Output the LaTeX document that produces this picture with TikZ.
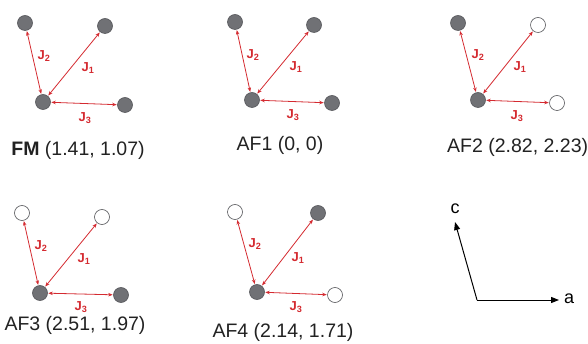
\documentclass[tikz,border=0pt]{standalone}
\usepackage{fontspec}
\setmainfont{Liberation Sans}
\usetikzlibrary{arrows.meta}
\definecolor{spingrey}{HTML}{707175}
\definecolor{spinedge}{HTML}{55565A}
\definecolor{jred}{HTML}{D42A30}
\definecolor{captext}{HTML}{222222}
\newcommand{\jj}[1]{J\textsubscript{#1}}
\begin{document}
\begin{tikzpicture}[x=1pt,y=-1pt,
  full/.style={circle,draw=spinedge,fill=spingrey,line width=0.6pt,minimum size=15pt,inner sep=0pt},
  empty/.style={circle,draw=spinedge,fill=white,line width=0.6pt,minimum size=15pt,inner sep=0pt},
  jarrow/.style={jred,line width=0.8pt,{Stealth[length=4.5pt,width=3.5pt]}-{Stealth[length=4.5pt,width=3.5pt]},shorten <=0.5pt,shorten >=0.5pt},
  jlab/.style={text=jred,font=\fontsize{13}{13}\selectfont\bfseries,inner sep=1pt},
  caption/.style={text=captext,font=\fontsize{19.5}{21}\selectfont,inner sep=0pt},
  axis/.style={line width=1pt,-{Triangle[length=8pt,width=6pt]}}]
\useasboundingbox (0,0) rectangle (588,344);
% FM
\node[full] (fa) at (25,23) {};
\node[full] (fb) at (105,26) {};
\node[full] (fc) at (43,102) {};
\node[full] (fd) at (125,105) {};
\draw[jarrow] (fc) -- (fa);
\draw[jarrow] (fc) -- (fb);
\draw[jarrow] (fc) -- (fd);
\node[jlab] (fj2) at (44,56) {\jj{2}};
\node[jlab] (fj1) at (88,68) {\jj{1}};
\node[jlab] (fj3) at (85,118) {\jj{3}};
\node[caption] (fcap) at (78,150) {\textbf{FM} (1.41, 1.07)};
% AF1
\node[full] (aa) at (235,22) {};
\node[full] (ab) at (314,25) {};
\node[full] (ac) at (252,100) {};
\node[full] (ad) at (332,103) {};
\draw[jarrow] (ac) -- (aa);
\draw[jarrow] (ac) -- (ab);
\draw[jarrow] (ac) -- (ad);
\node[jlab] (aj2) at (253,55) {\jj{2}};
\node[jlab] (aj1) at (296,67) {\jj{1}};
\node[jlab] (aj3) at (293,115) {\jj{3}};
\node[caption] (acap) at (280,145) {AF1 (0, 0)};
% AF2
\node[full] (ba) at (458,23) {};
\node[empty] (bb) at (538,25) {};
\node[full] (bc) at (478,100) {};
\node[empty] (bd) at (557,103) {};
\draw[jarrow] (bc) -- (ba);
\draw[jarrow] (bc) -- (bb);
\draw[jarrow] (bc) -- (bd);
\node[jlab] (bj2) at (478,55) {\jj{2}};
\node[jlab] (bj1) at (520,67) {\jj{1}};
\node[jlab] (bj3) at (517,116) {\jj{3}};
\node[caption,anchor=west] (bcap) at (447,147) {AF2 (2.82, 2.23)};
% AF3
\node[empty] (ca) at (22,213) {};
\node[empty] (cb) at (102,217) {};
\node[full] (cc) at (40,293) {};
\node[full] (cd) at (121,295) {};
\draw[jarrow] (cc) -- (ca);
\draw[jarrow] (cc) -- (cb);
\draw[jarrow] (cc) -- (cd);
\node[jlab] (cj2) at (41,246) {\jj{2}};
\node[jlab] (cj1) at (84,259) {\jj{1}};
\node[jlab] (cj3) at (81,307) {\jj{3}};
\node[caption] (ccap) at (75,325) {AF3 (2.51, 1.97)};
% AF4
\node[empty] (da) at (235,212) {};
\node[full] (db) at (318,213) {};
\node[full] (dc) at (257,292) {};
\node[empty] (dd) at (335,295) {};
\draw[jarrow] (dc) -- (da);
\draw[jarrow] (dc) -- (db);
\draw[jarrow] (dc) -- (dd);
\node[jlab] (dj2) at (255,244) {\jj{2}};
\node[jlab] (dj1) at (298,258) {\jj{1}};
\node[jlab] (dj3) at (296,307) {\jj{3}};
\node[caption] (dcap) at (283,332) {AF4 (2.14, 1.71)};
% axes
\coordinate (o) at (477,300);
\coordinate (ta) at (559,300);
\coordinate (tc) at (455,222);
\draw[axis] (o) -- (ta);
\draw[axis] (o) -- (tc);
\node[font=\fontsize{18}{18}\selectfont,inner sep=0pt] (la) at (569,299) {a};
\node[font=\fontsize{18}{18}\selectfont,inner sep=0pt] (lc) at (455,209) {c};
\end{tikzpicture}
\end{document}
